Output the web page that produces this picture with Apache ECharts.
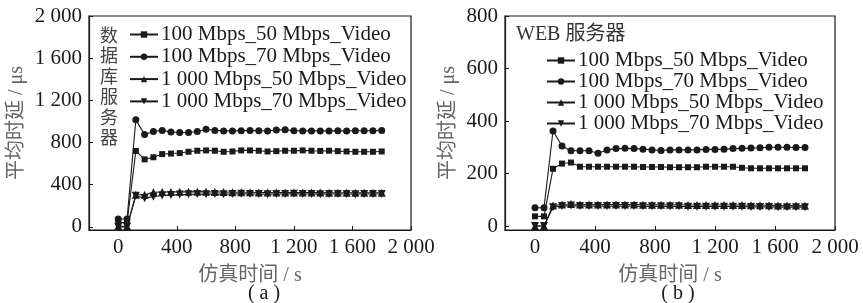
<!DOCTYPE html>
<html>
<head>
<meta charset="utf-8">
<script src="https://cdn.jsdelivr.net/npm/echarts@6/dist/echarts.min.js"></script>
<style>
  html, body { margin: 0; padding: 0; background: #fff; }
  #chart { width: 863px; height: 303px; }
</style>
</head>
<body>
<div id="chart"></div>
<script>
// simulation time (s)
const times = [0, 60, 120, 180, 240, 300, 360, 420, 480, 540, 600, 660, 720, 780, 840, 900,
  960, 1020, 1080, 1140, 1200, 1260, 1320, 1380, 1440, 1500, 1560, 1620, 1680, 1740, 1800];

const seriesNames = ['100 Mbps_50 Mbps_Video', '100 Mbps_70 Mbps_Video', '1 000 Mbps_50 Mbps_Video', '1 000 Mbps_70 Mbps_Video'];

// (a) database server, μs
const dbSq = [40, 40, 720, 640, 660, 690, 695, 700, 712, 722, 725, 722, 712, 715, 725, 725,
  722, 715, 718, 722, 722, 725, 722, 720, 722, 718, 715, 712, 712, 712, 715];
const dbCi = [75, 75, 1015, 875, 905, 915, 900, 895, 895, 905, 925, 915, 910, 910, 912, 915,
  912, 910, 918, 922, 912, 910, 910, 910, 910, 912, 910, 912, 912, 912, 915];
const dbTu = [5, 5, 305, 305, 328, 330, 330, 332, 332, 334, 332, 330, 330, 328, 328, 328,
  326, 326, 326, 325, 325, 325, 325, 325, 324, 324, 324, 324, 324, 324, 324];
const dbTd = [0, 0, 295, 272, 285, 298, 302, 306, 308, 312, 310, 312, 310, 312, 314, 312,
  312, 310, 312, 312, 314, 312, 312, 310, 312, 312, 312, 310, 312, 312, 312];

// (b) WEB server, μs
const webSq = [37, 37, 218, 238, 242, 226, 226, 226, 226, 226, 226, 226, 225, 225, 225, 224,
  224, 224, 224, 226, 226, 226, 226, 222, 220, 220, 220, 220, 220, 220, 220];
const webCi = [70, 70, 362, 305, 287, 287, 287, 277, 290, 295, 296, 295, 293, 290, 288, 290,
  290, 290, 290, 292, 292, 293, 295, 296, 297, 298, 300, 300, 300, 299, 299];
const webTu = [0, 0, 78, 82, 84, 82, 82, 82, 82, 82, 82, 82, 81, 81, 81, 81,
  81, 80, 80, 80, 80, 80, 80, 80, 79, 79, 79, 78, 78, 78, 77];
const webTd = [0, 0, 72, 76, 78, 76, 76, 76, 76, 76, 76, 76, 75, 75, 75, 75,
  75, 74, 74, 74, 74, 74, 74, 74, 73, 73, 73, 72, 72, 72, 72];

// tick values and labels
const xTicks = [0, 400, 800, 1200, 1600, 2000];
const xTickLabels = ['0', '400', '800', '1 200', '1 600', '2 000'];
const dbYTicks = [0, 400, 800, 1200, 1600, 2000];
const dbYTickLabels = ['0', '400', '800', '1 200', '1 600', '2 000'];
const webYTicks = [0, 200, 400, 600, 800];
const webYTickLabels = ['0', '200', '400', '600', '800'];

const FONT = "'Liberation Serif', 'Noto Sans CJK SC', serif";
const INK = '#1a1a1a';

const label = (ticks, labels) => (v) => {
  const i = ticks.indexOf(v);
  return i < 0 ? '' : labels[i];
};

const xAxis = (gridIndex) => ({
  type: 'value', gridIndex, min: -200, max: 2000,
  name: '仿真时间 / s', nameLocation: 'middle', nameGap: 36,
  nameTextStyle: { fontFamily: FONT, fontSize: 20, color: '#666' },
  axisLine: { onZero: false, lineStyle: { color: INK, width: 1.2 } },
  axisTick: { inside: true, length: 4, customValues: xTicks, lineStyle: { color: INK } },
  axisLabel: { customValues: xTicks, formatter: label(xTicks, xTickLabels), margin: 7, fontFamily: FONT, fontSize: 21, color: INK },
  splitLine: { show: false }
});

const yAxis = (gridIndex, min, max, ticks, labels, gap) => ({
  type: 'value', gridIndex, min, max,
  name: '平均时延 / μs', nameLocation: 'middle', nameGap: gap,
  nameTextStyle: { fontFamily: FONT, fontSize: 20, color: '#666' },
  axisLine: { onZero: false, lineStyle: { color: INK, width: 1.2 } },
  axisTick: { inside: true, length: 4, customValues: ticks, lineStyle: { color: INK } },
  axisLabel: { customValues: ticks, formatter: label(ticks, labels), margin: 7, fontFamily: FONT, fontSize: 21, color: INK },
  splitLine: { show: false }
});

const marks = [
  { symbol: 'rect', size: 6, rotate: 0 },
  { symbol: 'circle', size: 7, rotate: 0 },
  { symbol: 'triangle', size: 8, rotate: 0 },
  { symbol: 'triangle', size: 8, rotate: 180 }
];

const makeSeries = (axisIndex, arrays) => arrays.map((vals, i) => ({
  name: seriesNames[i],
  type: 'line',
  xAxisIndex: axisIndex, yAxisIndex: axisIndex,
  data: times.map((t, k) => [t, vals[k]]),
  symbol: marks[i].symbol, symbolSize: marks[i].size, symbolRotate: marks[i].rotate,
  showAllSymbol: true,
  lineStyle: { color: INK, width: 1.1 },
  itemStyle: { color: INK },
  emphasis: { disabled: true }
}));

const legend = (left, top, gap) => ({
  orient: 'vertical', left, top, padding: 0,
  itemWidth: 28, itemHeight: 8, itemGap: gap,
  selectedMode: false,
  data: seriesNames,
  textStyle: { fontFamily: FONT, fontSize: 21, lineHeight: 19, color: INK, padding: [0, 0, 0, -2] }
});

const chart = echarts.init(document.getElementById('chart'), null, { renderer: 'canvas' });
chart.setOption({
  animation: false,
  backgroundColor: '#fff',
  grid: [
    { left: 89, top: 16, width: 322, height: 214, show: true, borderColor: INK, borderWidth: 1.2, outerBoundsMode: 'none' },
    { left: 505, top: 16, width: 330, height: 214, show: true, borderColor: INK, borderWidth: 1.2, outerBoundsMode: 'none' }
  ],
  xAxis: [xAxis(0), xAxis(1)],
  yAxis: [
    yAxis(0, -30, 2000, dbYTicks, dbYTickLabels, 62),
    yAxis(1, -15, 800, webYTicks, webYTickLabels, 46)
  ],
  legend: [legend(129, 24, 1.3), legend(546, 50, 0)],
  title: [
    { text: '数\n据\n库\n服\n务\n器', left: 100, top: 27, padding: 0,
      textStyle: { fontFamily: FONT, fontSize: 18, lineHeight: 20.5, fontWeight: 'normal', color: '#444' } },
    { text: 'WEB 服务器', left: 516, top: 25, padding: 0,
      textStyle: { fontFamily: FONT, fontSize: 20, fontWeight: 'normal', color: '#333' } },
    { text: '( a )', left: 264, top: 284, textAlign: 'center', padding: 0,
      textStyle: { fontFamily: FONT, fontSize: 20, fontWeight: 'normal', color: INK } },
    { text: '( b )', left: 678, top: 284, textAlign: 'center', padding: 0,
      textStyle: { fontFamily: FONT, fontSize: 20, fontWeight: 'normal', color: INK } }
  ],
  series: [
    ...makeSeries(0, [dbSq, dbCi, dbTu, dbTd]),
    ...makeSeries(1, [webSq, webCi, webTu, webTd])
  ]
});
window.addEventListener('resize', () => chart.resize());
</script>
</body>
</html>
